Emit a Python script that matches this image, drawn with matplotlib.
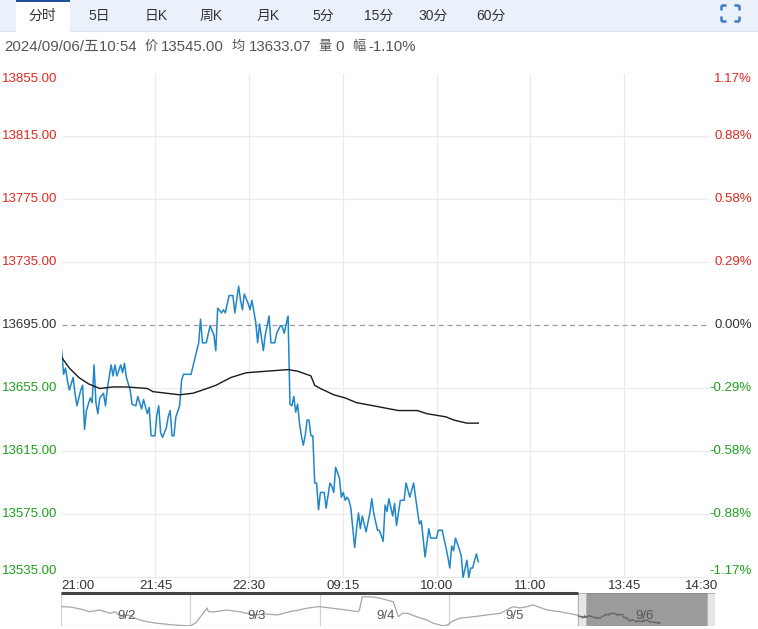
import numpy as np
import matplotlib
matplotlib.use("Agg")
import matplotlib.pyplot as plt
from matplotlib.patches import Rectangle

plt.rcParams['font.family'] = ['Liberation Sans', 'Noto Sans CJK SC', 'DejaVu Sans']

# ---- data ----
prev_close = 13695
y_levels = [13855, 13815, 13775, 13735, 13695, 13655, 13615, 13575, 13535]
time_labels = ['21:00', '21:45', '22:30', '09:15', '10:00', '11:00', '13:45', '14:30']
session_minutes = 345  # 21:00-23:00, 09:00-10:15, 10:30-11:30, 13:30-15:00

minutes = [0, 1, 2, 3, 4, 6, 7, 8, 10, 11, 12, 13, 15, 16, 17, 18, 19, 20, 22, 23,
           24, 26, 27, 28, 29, 31, 32, 33, 34, 36, 37, 39, 40, 42, 43, 45, 46, 47, 49, 50,
           51, 52, 53, 55, 56, 57, 58, 59, 60, 62, 63, 64, 68, 70, 72, 73, 74, 76, 78, 80,
           81, 82, 84, 85, 86, 88, 90, 91, 93, 94, 95, 96, 98, 99, 100, 102, 103, 104, 106, 107,
           109, 110, 112, 113, 115, 116, 117, 118, 119, 120, 121, 122, 123, 124, 125, 126, 127, 128, 129, 130,
           131, 132, 133, 134, 135, 136, 138, 139, 141, 142, 143, 144, 146, 147, 148, 149, 150, 151, 152, 154,
           155, 156, 157, 158, 160, 162, 163, 164, 166, 167, 169, 170, 171, 172, 174, 175, 176, 178, 180, 181,
           183, 185, 186, 188, 189, 190, 191, 193, 194, 197, 198, 200, 202, 203, 204, 205, 206, 207, 209, 210,
           211, 213, 214, 215, 216, 218, 219]
prices = [13679, 13664, 13668, 13660, 13654, 13662, 13652, 13644, 13654, 13657, 13629, 13641, 13649, 13646, 13670, 13646, 13639, 13649, 13652, 13644,
          13655, 13670, 13663, 13670, 13663, 13670, 13665, 13671, 13662, 13654, 13645, 13644, 13650, 13642, 13648, 13639, 13643, 13625, 13625, 13638,
          13644, 13627, 13624, 13630, 13637, 13641, 13625, 13625, 13637, 13644, 13660, 13664, 13664, 13674, 13684, 13699, 13684, 13684, 13695, 13689,
          13679, 13706, 13703, 13705, 13703, 13714, 13714, 13703, 13720, 13711, 13705, 13715, 13709, 13705, 13711, 13697, 13684, 13696, 13679, 13689,
          13701, 13684, 13684, 13690, 13695, 13694, 13690, 13696, 13701, 13645, 13644, 13650, 13640, 13645, 13633, 13625, 13619, 13625, 13635, 13635,
          13625, 13625, 13595, 13595, 13578, 13589, 13589, 13579, 13595, 13593, 13589, 13605, 13598, 13586, 13589, 13584, 13586, 13584, 13579, 13554,
          13566, 13576, 13566, 13574, 13564, 13576, 13585, 13576, 13565, 13565, 13558, 13581, 13577, 13585, 13574, 13582, 13568, 13584, 13584, 13595,
          13586, 13595, 13586, 13569, 13571, 13560, 13548, 13566, 13560, 13560, 13565, 13565, 13554, 13548, 13541, 13555, 13552, 13560, 13553, 13549,
          13535, 13546, 13535, 13541, 13541, 13550, 13545]

avg_minutes = [0, 1, 4, 9, 14, 20, 27, 34, 45, 48, 55, 62, 69, 74, 81, 89, 97, 108, 119, 124,
               131, 133, 136, 143, 149, 155, 164, 177, 187, 192, 202, 206, 213, 219]
avg_prices = [13675, 13673, 13668, 13662, 13658, 13655, 13656, 13656, 13655, 13653, 13652, 13651, 13652, 13654, 13657, 13662, 13665, 13666, 13667, 13666,
              13663, 13657, 13655, 13651, 13649, 13646, 13644, 13641, 13641, 13639, 13637, 13635, 13633, 13633]

# navigator (5 days, one unit per day)
nav_days = ['9/2', '9/3', '9/4', '9/5', '9/6']
nav_pos = [0.005, 0.07, 0.15, 0.22, 0.30, 0.38, 0.42, 0.46, 0.52, 0.57, 0.61, 0.67, 0.74, 0.80, 0.87, 0.98,
           1.005, 1.05, 1.07, 1.13, 1.14, 1.19, 1.28, 1.38, 1.44, 1.48, 1.59, 1.67, 1.77, 1.84, 1.90, 1.98,
           2.003, 2.10, 2.21, 2.30, 2.31, 2.33, 2.41, 2.47, 2.52, 2.57, 2.61, 2.64, 2.68, 2.75, 2.83, 2.88, 2.95,
           2.99, 3.02, 3.08, 3.19, 3.29, 3.40, 3.47, 3.50, 3.55, 3.60, 3.65, 3.76, 3.86, 3.99]
nav_price = [13833, 13828, 13792, 13743, 13774, 13715, 13743, 13653, 13684, 13630, 13594, 13563, 13535, 13522, 13504, 13491,
             13491, 13558, 13625, 13810, 13743, 13743, 13774, 13743, 13715, 13684, 13702, 13684, 13743, 13774, 13805, 13833,
             13833, 13805, 13774, 13743, 13792, 14013, 14008, 13985, 13954, 13923, 13653, 13715, 13715, 13653, 13594, 13535, 13491,
             13504, 13563, 13625, 13653, 13684, 13715, 13805, 13833, 13810, 13833, 13864, 13774, 13743, 13684]

# ---- figure ----
W, H = 758, 629
fig = plt.figure(figsize=(W / 100, H / 100), dpi=100)


def fx(px):
    return px / W


def fy(py):
    return 1 - py / H


red = '#e0281e'
green = '#1ea01e'
blue = '#1f86c9'

# tab bar
fig.add_artist(Rectangle((0, fy(32)), 1, 32 / H, transform=fig.transFigure, facecolor='#eaf1fa', edgecolor='none'))
fig.add_artist(Rectangle((0, fy(32)), 1, 0.8 / H, transform=fig.transFigure, facecolor='#d9e2ee', edgecolor='none'))
fig.add_artist(Rectangle((fx(16), fy(32)), 54 / W, 31 / H, transform=fig.transFigure, facecolor='white', edgecolor='none'))
fig.add_artist(Rectangle((fx(16), fy(2)), 54 / W, 2 / H, transform=fig.transFigure, facecolor='#1f4f9c', edgecolor='none'))

tabs = ['分时', '5日', '日K', '周K', '月K', '5分', '15分', '30分', '60分']
tab_x = [42.5, 99.5, 156, 211, 268, 323, 379, 433.5, 491]
for t, x in zip(tabs, tab_x):
    fig.text(fx(x), fy(16), t, ha='center', va='center', fontsize=10, color='#333333')

# expand icon
ic = '#3a7bc8'
for (x0, y0, dx, dy) in [(721, 5, 1, 1), (739, 5, -1, 1), (721, 21, 1, -1), (739, 21, -1, -1)]:
    fig.add_artist(plt.Line2D([fx(x0), fx(x0 + 5 * dx)], [fy(y0), fy(y0)], transform=fig.transFigure,
                              color=ic, lw=1.8, solid_capstyle='butt'))
    fig.add_artist(plt.Line2D([fx(x0), fx(x0)], [fy(y0), fy(y0 + 5 * dy)], transform=fig.transFigure,
                              color=ic, lw=1.8, solid_capstyle='butt'))

# info line (CJK marks a touch smaller than the digits, as in the screenshot)
info_parts = [('2024/09/06/五10:54', 4, 10.8), ('价', 145, 9.5), ('13545.00', 161, 10.8), ('均', 232, 9.5),
              ('13633.07', 249, 10.8), ('量', 318, 9.5), ('0', 335, 10.8), ('幅', 352, 9.5), ('-1.10%', 368, 10.8)]
for t, x, fs in info_parts:
    fig.text(fx(x), fy(47), t, ha='left', va='center', fontsize=fs, color='#555555')

# main chart
left_px, right_px, top_px, bot_px = 61.7, 758, 73.5, 577.5
ax = fig.add_axes([fx(left_px), fy(bot_px), (right_px - left_px) / W, (bot_px - top_px) / H])
px_per_min = 656.3 / session_minutes
ax.set_xlim(0, (right_px - left_px) / px_per_min)
ax.set_ylim(y_levels[-1], y_levels[0])
for s in ax.spines.values():
    s.set_visible(False)
ax.set_xticks([])
ax.set_yticks([])

axw = right_px - left_px
grid_end = (709 - left_px) / axw
for v in y_levels:
    if v == prev_close:
        ax.axhline(v, xmax=grid_end, color='#9a9a9a', lw=0.9, dashes=(4, 3), zorder=1)
    else:
        ax.axhline(v, xmax=grid_end, color='#ebebeb', lw=0.9, zorder=0)
label_pos = [k * session_minutes / 7 for k in range(len(time_labels))]
for xp in label_pos[1:-1]:
    ax.axvline(xp, color='#ebebeb', lw=0.9, zorder=0)

ax.plot(minutes, prices, color=blue, lw=1.1, zorder=3)
ax.plot(avg_minutes, avg_prices, color='#1a1a1a', lw=1.0, zorder=4)

ytr = ax.get_yaxis_transform()
for i, v in enumerate(y_levels):
    col = red if v > prev_close else (green if v < prev_close else '#333333')
    va = 'top' if i == 0 else ('bottom' if i == len(y_levels) - 1 else 'center')
    pct = (v - prev_close) / prev_close * 100
    ax.text((57.5 - left_px) / axw, v, f'{v:.2f}', transform=ytr, ha='right', va=va,
            fontsize=9.5, color=col, clip_on=False)
    ax.text((752 - left_px) / axw, v, f'{pct:.2f}%', transform=ytr, ha='right', va=va,
            fontsize=9.5, color=col, clip_on=False)

xtr = ax.get_xaxis_transform()
for i, (t, xp) in enumerate(zip(time_labels, label_pos)):
    ha = 'left' if i == 0 else ('right' if i == len(time_labels) - 1 else 'center')
    ax.text(xp, -(586 - bot_px) / (bot_px - top_px), t, transform=xtr, ha=ha, va='center',
            fontsize=9.5, color='#333333', clip_on=False)

# navigator
nav_left, nav_right, nav_top, nav_bot = 61, 715, 593, 626
nax = fig.add_axes([fx(nav_left), fy(nav_bot), (nav_right - nav_left) / W, (nav_bot - nav_top) / H])
day_px = 129.3
nax.set_xlim(0, (nav_right - nav_left) / day_px)
nax.set_ylim(13486, 14080)
for s in nax.spines.values():
    s.set_visible(False)
nax.set_xticks([])
nax.set_yticks([])

for d in range(0, 5):
    nax.axvline(d, color='#d4d4d4', lw=0.9, zorder=0)
nax.axhline(13490, color='#dddddd', lw=0.9, zorder=0)
nax.plot(nav_pos, nav_price, color='#a6a6a6', lw=0.9, zorder=2)

x_end = (nav_right - nav_left) / day_px
nax.add_patch(Rectangle((4, 13486), x_end - 4, 14080 - 13486, facecolor='#9b9b9b', edgecolor='#8a8a8a',
                        lw=0.8, zorder=3))
hw = 8 / day_px
nax.add_patch(Rectangle((4, 13486), hw, 14080 - 13486, facecolor='#e6e6e6', edgecolor='#b0b0b0', lw=0.6, zorder=4))
nax.add_patch(Rectangle((x_end - hw, 13486), hw, 14080 - 13486, facecolor='#e6e6e6', edgecolor='#b0b0b0',
                        lw=0.6, zorder=4))
today_pos = [4 + m / session_minutes for m in minutes]
nax.plot(today_pos, prices, color='#6a6a6a', lw=0.9, zorder=5)
nax.plot([0, 4], [14080, 14080], color='#444444', lw=2.2, zorder=6, clip_on=False, solid_capstyle='butt')

for i, d in enumerate(nav_days):
    nax.text(i + 0.51, 13660, d, ha='center', va='center', fontsize=9.5, color='#555555', zorder=7)

fig.savefig('out.png', dpi=100)
